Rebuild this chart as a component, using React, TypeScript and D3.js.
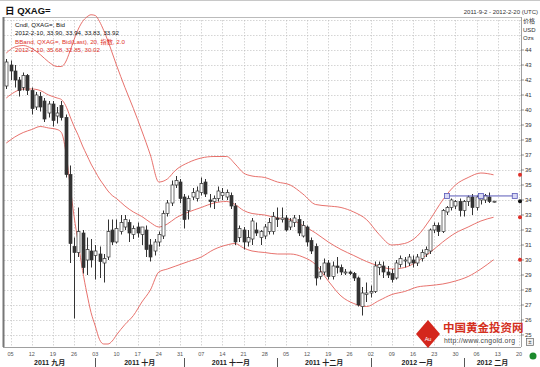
import React, { useEffect, useRef } from "react";
import * as d3 from "d3";

// Cndl, QXAG=, Bid  (daily, 2011-9-2 .. 2012-2-10)
const opens = [
  41.6, 43.0, 42.6, 42.0, 41.5, 42.3, 41.3, 40.2, 40.9, 40.6, 39.8, 40.4, 39.6, 40.3, 39.5, 35.7, 30.9, 30.5, 31.8, 30.0,
  30.6, 30.3, 30.4, 29.8, 30.2, 32.0, 31.2, 31.9, 32.2, 32.5, 31.7, 32.2, 31.7, 32.0, 31.0, 30.6, 31.2, 31.6, 33.1, 33.8,
  35.0, 35.2, 34.2, 33.3, 34.2, 34.1, 34.5, 35.2, 34.0, 33.9, 34.1, 34.3, 34.2, 34.3, 33.6, 31.5, 32.0, 31.2, 31.4, 32.0,
  31.5, 31.6, 31.9, 31.9, 32.8, 32.7, 32.8, 32.2, 32.5, 32.7, 31.6, 32.2, 31.3, 30.9, 28.9, 29.2, 29.8, 28.9, 29.6, 29.5,
  29.2, 29.2, 29.1, 28.8, 26.9, 27.7, 27.8, 27.9, 29.5, 29.6, 29.2, 29.1, 28.8, 29.7, 30.0, 29.8, 30.0, 29.8, 30.1, 30.4,
  30.6, 32.0, 32.3, 31.9, 33.2, 33.5, 33.6, 33.9, 33.3, 33.9, 34.2, 33.5, 34.0, 34.0, 34.2, 33.9,
];
const highs = [
  43.4, 43.3, 43.0, 42.2, 42.5, 42.4, 41.5, 41.2, 41.2, 40.8, 40.6, 40.6, 40.2, 40.6, 39.7, 36.3, 31.5, 33.5, 32.0, 31.5,
  31.4, 31.0, 30.9, 30.4, 32.7, 32.7, 32.7, 33.0, 33.0, 32.7, 32.3, 32.5, 32.2, 32.3, 31.4, 31.4, 31.9, 33.3, 34.0, 35.3,
  35.6, 35.4, 34.4, 34.3, 34.8, 34.9, 35.5, 35.4, 34.4, 34.3, 34.9, 34.8, 34.7, 34.5, 33.8, 32.3, 32.2, 32.0, 32.8, 32.5,
  32.0, 32.4, 32.8, 33.2, 33.5, 33.5, 33.0, 32.8, 33.0, 33.0, 32.6, 32.3, 31.5, 31.1, 29.6, 30.1, 30.0, 29.9, 30.2, 29.7,
  29.4, 29.3, 29.2, 28.9, 28.2, 28.5, 28.3, 29.9, 29.9, 29.9, 29.6, 29.4, 30.0, 30.3, 30.2, 30.4, 30.3, 30.4, 30.7, 30.9,
  32.1, 32.5, 32.5, 33.4, 33.6, 34.1, 34.0, 34.1, 34.0, 34.3, 34.4, 34.3, 34.3, 34.4, 34.5, 33.94,
];
const lows = [
  41.4, 42.0, 41.5, 40.9, 41.3, 41.0, 39.7, 40.0, 39.9, 39.2, 39.5, 38.9, 39.1, 39.3, 35.5, 29.8, 26.1, 30.2, 29.1, 29.0,
  29.5, 28.7, 28.8, 28.5, 30.0, 31.0, 31.1, 31.7, 32.0, 31.2, 31.4, 31.5, 31.0, 30.2, 29.9, 30.3, 30.9, 31.4, 32.9, 33.6,
  34.8, 33.8, 32.1, 32.7, 34.0, 33.9, 34.3, 34.2, 33.5, 33.4, 33.9, 34.0, 34.0, 33.4, 31.0, 31.2, 30.7, 30.9, 31.0, 31.6,
  31.0, 31.4, 31.7, 31.7, 32.2, 32.5, 31.9, 32.0, 32.2, 31.6, 31.5, 30.9, 30.4, 28.3, 28.7, 29.0, 28.7, 28.7, 29.1, 29.0,
  29.0, 29.0, 28.6, 26.9, 26.3, 27.2, 27.5, 27.8, 29.0, 28.8, 28.8, 28.5, 28.7, 29.5, 29.5, 29.6, 29.5, 29.6, 29.9, 30.2,
  30.4, 31.8, 31.6, 31.8, 33.0, 33.3, 33.4, 32.9, 32.9, 33.6, 33.0, 33.3, 33.7, 33.8, 33.8, 33.83,
];
const closes = [
  43.2, 42.6, 42.0, 41.3, 42.3, 41.3, 40.1, 41.0, 40.2, 39.4, 40.4, 39.3, 39.8, 39.5, 35.7, 31.1, 30.5, 31.9, 29.5, 30.7,
  30.0, 30.6, 29.9, 30.1, 31.9, 31.2, 32.1, 32.5, 32.7, 31.8, 32.1, 31.8, 32.2, 30.7, 30.2, 31.2, 31.7, 33.1, 33.8, 35.0,
  35.3, 34.1, 32.7, 34.1, 34.5, 34.6, 35.1, 34.4, 33.9, 34.1, 34.6, 34.5, 34.5, 33.6, 31.2, 32.1, 31.2, 31.5, 32.6, 31.8,
  31.9, 32.2, 32.5, 32.9, 32.7, 32.8, 32.0, 32.6, 32.8, 31.8, 32.3, 31.2, 30.6, 28.8, 29.2, 29.8, 28.9, 29.6, 29.5, 29.2,
  29.2, 29.1, 28.8, 27.0, 27.8, 27.8, 27.9, 29.6, 29.7, 29.2, 29.0, 28.7, 29.8, 30.1, 30.0, 30.2, 29.8, 30.2, 30.5, 30.7,
  32.0, 32.3, 31.9, 33.3, 33.5, 34.0, 33.9, 33.3, 33.9, 34.2, 33.5, 34.2, 34.2, 34.3, 33.9, 33.92,
];

// BBand, QXAG=, Bid(Last), 20, 指数, 2.0  (read at these trading-day indices)
const bandIdx = [
  0, 2, 4, 6, 8, 10, 12, 13, 14, 15, 16, 17, 18, 19, 20, 21, 22, 23, 24, 25, 26, 28, 30, 32, 34, 36, 38, 40, 43, 46, 49,
  52, 54, 56, 58, 61, 64, 67, 70, 73, 76, 79, 82, 85, 88, 91, 94, 97, 100, 103, 106, 109, 112, 115,
];
const bandUpper = [
  43.8, 44.2, 44.3, 44.1, 43.7, 43.2, 42.9, 42.9, 43.2, 43.9, 44.7, 45.4, 45.9, 46.2, 46.35, 46.3, 45.9, 45.3, 44.6, 43.8,
  43.0, 41.5, 40.1, 38.6, 37.0, 35.2, 35.4, 36.0, 36.5, 36.8, 36.9, 36.9, 36.4, 35.8, 35.6, 35.5, 35.2, 35.0, 34.4, 33.7,
  33.6, 33.5, 33.2, 32.7, 31.7, 31.0, 31.1, 31.6, 32.7, 34.0, 35.0, 35.5, 35.8, 35.68,
];
const bandMid = [
  40.8, 41.2, 41.4, 41.4, 41.3, 41.0, 40.8, 40.7, 40.3, 39.6, 38.9, 38.3, 37.6, 37.0, 36.4, 35.9, 35.4, 35.0, 34.6, 34.3,
  34.1, 33.6, 33.2, 32.9, 32.5, 32.2, 32.4, 32.8, 33.2, 33.5, 33.8, 33.9, 33.7, 33.3, 33.1, 33.0, 32.8, 32.7, 32.3, 31.8,
  31.2, 30.7, 30.3, 29.9, 29.6, 29.4, 29.5, 29.9, 30.5, 31.2, 31.8, 32.2, 32.6, 32.85,
];
const bandLower = [
  37.8, 38.2, 38.5, 38.7, 38.9, 38.8, 38.7, 38.5, 37.3, 35.1, 32.9, 31.1, 29.3, 27.8, 26.5, 25.6, 24.7, 24.4, 24.4, 24.6,
  25.0, 25.7, 26.3, 27.2, 28.0, 29.2, 29.4, 29.6, 29.9, 30.2, 30.7, 31.0, 31.1, 30.8, 30.6, 30.5, 30.4, 30.4, 30.2, 29.7,
  28.6, 27.6, 27.1, 26.9, 27.3, 27.7, 27.9, 28.2, 28.3, 28.4, 28.6, 28.9, 29.4, 30.02,
];

// horizontal trend line drawn by the user
const trendIdx = [104, 112, 120];
const trendValue = [34.27, 34.27, 34.27];

const priceTicks = d3.range(25, 45);
const monthNames = ["2011 九月", "2011 十月", "2011 十一月", "2011 十二月", "2012 一月", "2012 二月"];
const legendLines = [
  { text: "Cndl, QXAG=, Bid", color: "#111" },
  { text: "2012-2-10, 33.90, 33.94, 33.83, 33.92", color: "#111" },
  { text: "BBand, QXAG=, Bid(Last), 20, 指数, 2.0", color: "#e0312a" },
  { text: "2012-2-10, 35.68, 32.85, 30.02", color: "#e0312a" },
];

const FONT = "'Liberation Sans', Arial, 'Noto Sans CJK SC', sans-serif";

const App = () => {
  const ref = useRef<SVGSVGElement>(null);

  useEffect(() => {
    const svg = d3.select(ref.current);
    svg.selectAll("*").remove();

    const left = 4;
    const right = 521;
    const top = 20;
    const bottom = 347;

    // trading days Sep 2 2011 .. Feb 20 2012
    const days = d3
      .timeDay.range(new Date(2011, 8, 2), new Date(2012, 1, 21))
      .filter((d) => d.getDay() !== 0 && d.getDay() !== 6);

    const x = d3.scaleLinear().domain([0, days.length - 1]).range([6.3, 519]);
    const y = d3.scaleLinear().domain([25, 46]).range([335, 20]);

    const mondays = days.map((d, i) => ({ d, i })).filter((o) => o.d.getDay() === 1);
    const monthStarts = days
      .map((d, i) => ({ d, i }))
      .filter((o) => o.i > 0 && o.d.getMonth() !== days[o.i - 1].getMonth());

    svg.append("rect").attr("width", 540).attr("height", 367).attr("fill", "#fff");

    const defs = svg.append("defs");
    defs.append("clipPath").attr("id", "plotClip")
      .append("rect").attr("x", left).attr("y", top).attr("width", right - left).attr("height", bottom - top);
    defs.append("clipPath").attr("id", "bandClip")
      .append("rect").attr("x", left).attr("y", 12).attr("width", right - left).attr("height", bottom - 12);

    // grid
    const grid = svg.append("g").attr("stroke", "#b9b9b9").attr("stroke-width", 0.6).attr("stroke-dasharray", "1.5,1.5");
    grid.selectAll("line.h").data(d3.range(25, 47)).join("line")
      .attr("x1", left).attr("x2", right)
      .attr("y1", (v) => Math.round(y(v)) + 0.5).attr("y2", (v) => Math.round(y(v)) + 0.5);
    grid.selectAll("line.v").data(mondays).join("line")
      .attr("x1", (o) => Math.round(x(o.i)) + 0.5).attr("x2", (o) => Math.round(x(o.i)) + 0.5)
      .attr("y1", top).attr("y2", bottom);

    // frame
    svg.append("line").attr("x1", 0).attr("x2", 540).attr("y1", 0.5).attr("y2", 0.5).attr("stroke", "#c8c8c8");
    svg.append("line").attr("x1", 3).attr("x2", right).attr("y1", 17.5).attr("y2", 17.5).attr("stroke", "#aaa").attr("stroke-width", 0.8);
    svg.append("line").attr("x1", 3.5).attr("x2", 3.5).attr("y1", 17).attr("y2", bottom).attr("stroke", "#777").attr("stroke-width", 2);
    svg.append("line").attr("x1", right + 0.5).attr("x2", right + 0.5).attr("y1", 17).attr("y2", bottom).attr("stroke", "#888").attr("stroke-width", 0.8);
    svg.append("line").attr("x1", 3).attr("x2", right).attr("y1", bottom + 0.5).attr("y2", bottom + 0.5).attr("stroke", "#888").attr("stroke-width", 0.8);

    // bollinger bands
    const bandLine = d3.line<number>()
      .x((_, k) => x(bandIdx[k]))
      .y((v) => y(v))
      .curve(d3.curveMonotoneX);
    svg.append("g").attr("clip-path", "url(#bandClip)")
      .selectAll("path").data([bandUpper, bandMid, bandLower]).join("path")
      .attr("d", (s) => bandLine(s))
      .attr("fill", "none").attr("stroke", "#e4625c").attr("stroke-width", 0.9);

    // candles
    const candles = opens.map((o, i) => ({ i, o, h: highs[i], l: lows[i], c: closes[i] }));
    const cg = svg.append("g").attr("clip-path", "url(#plotClip)");
    cg.selectAll("line").data(candles).join("line")
      .attr("x1", (d) => Math.round(x(d.i)) + 0.5).attr("x2", (d) => Math.round(x(d.i)) + 0.5)
      .attr("y1", (d) => y(d.h)).attr("y2", (d) => y(d.l))
      .attr("stroke", "#333").attr("stroke-width", 1);
    cg.selectAll("rect").data(candles).join("rect")
      .attr("x", (d) => Math.round(x(d.i)) - 1)
      .attr("width", 3)
      .attr("y", (d) => y(Math.max(d.o, d.c)))
      .attr("height", (d) => Math.max(1, Math.abs(y(d.o) - y(d.c))))
      .attr("fill", (d) => (d.c >= d.o ? "#fff" : "#333"))
      .attr("stroke", "#333").attr("stroke-width", 0.7);

    // trend line
    const tl = svg.append("g");
    tl.append("path")
      .attr("d", d3.line<number>().x((i) => x(i)).y((_, k) => y(trendValue[k]))(trendIdx))
      .attr("stroke", "#5a5ab8").attr("stroke-width", 1).attr("fill", "none");
    tl.selectAll("rect").data(trendIdx).join("rect")
      .attr("x", (i) => x(i) - 2.5).attr("y", (_, k) => y(trendValue[k]) - 2.5)
      .attr("width", 5).attr("height", 5)
      .attr("fill", "#d8d8f4").attr("stroke", "#5a5ab8").attr("stroke-width", 0.8);

    // right axis
    const ax = svg.append("g").attr("font-family", FONT).attr("font-size", 6).attr("fill", "#333");
    ax.selectAll("line").data(priceTicks).join("line")
      .attr("x1", right).attr("x2", right + 3)
      .attr("y1", (v) => y(v)).attr("y2", (v) => y(v))
      .attr("stroke", "#666").attr("stroke-width", 0.7);
    ax.selectAll("text").data(priceTicks).join("text")
      .attr("x", right + 4).attr("y", (v) => y(v) + 2.2)
      .text((v) => v);
    ["价格", "USD", "Ozs"].forEach((t, k) => {
      svg.append("text").attr("x", right + 2).attr("y", 23 + k * 8.5)
        .attr("font-family", FONT).attr("font-size", 6).attr("fill", "#333").text(t);
    });

    // last value markers on the axis
    const marks = [
      { v: bandUpper[bandUpper.length - 1], c: "#e0312a" },
      { v: closes[closes.length - 1], c: "#111" },
      { v: bandMid[bandMid.length - 1], c: "#e0312a" },
      { v: bandLower[bandLower.length - 1], c: "#e0312a" },
    ];
    svg.selectAll("circle.mk").data(marks).join("circle")
      .attr("cx", right - 1).attr("cy", (m) => y(m.v)).attr("r", 2)
      .attr("fill", (m) => m.c);

    // bottom axis: dates
    const fmt = d3.timeFormat("%d");
    svg.append("g").attr("font-family", FONT).attr("font-size", 5.5).attr("fill", "#555").attr("text-anchor", "middle")
      .selectAll("text").data(mondays).join("text")
      .attr("x", (o) => x(o.i)).attr("y", 356)
      .text((o) => fmt(o.d));
    svg.append("g").attr("stroke", "#444").attr("stroke-width", 0.9)
      .selectAll("line").data(monthStarts).join("line")
      .attr("x1", (o) => Math.round(x(o.i)) + 0.5).attr("x2", (o) => Math.round(x(o.i)) + 0.5)
      .attr("y1", 358).attr("y2", 367);
    const bounds = [left, ...monthStarts.map((o) => x(o.i)), right];
    svg.append("g").attr("font-family", FONT).attr("font-size", 7).attr("font-weight", "bold").attr("fill", "#222")
      .attr("text-anchor", "middle")
      .selectAll("text").data(monthNames).join("text")
      .attr("x", (_, k) => (bounds[k] + bounds[k + 1]) / 2).attr("y", 365)
      .text((t) => t);

    // header
    svg.append("text").attr("x", 5).attr("y", 13.5)
      .attr("font-family", FONT).attr("font-size", 9.5).attr("font-weight", "bold").attr("fill", "#111")
      .text("日 QXAG=");
    svg.append("text").attr("x", 538).attr("y", 14).attr("text-anchor", "end")
      .attr("font-family", FONT).attr("font-size", 6).attr("fill", "#333")
      .text("2011-9-2 - 2012-2-20 (UTC)");

    // legend
    svg.append("g").attr("font-family", FONT).attr("font-size", 6.2)
      .selectAll("text").data(legendLines).join("text")
      .attr("x", 15).attr("y", (_, k) => 27 + k * 8.3)
      .attr("fill", (l) => l.color)
      .text((l) => l.text);

    // watermark
    const wm = svg.append("g");
    wm.append("polygon").attr("points", "428,320 440,334 428,348 416,334").attr("fill", "#d4261c");
    wm.append("text").attr("x", 428).attr("y", 341).attr("text-anchor", "middle")
      .attr("font-family", FONT).attr("font-size", 5.5).attr("fill", "#fff").text("Au");
    wm.append("text").attr("x", 443).attr("y", 332)
      .attr("font-family", "'Noto Sans CJK SC', sans-serif").attr("font-size", 11.5).attr("font-weight", "bold")
      .attr("fill", "#d4301e").text("中国黄金投资网");
    wm.append("text").attr("x", 444).attr("y", 343)
      .attr("font-family", FONT).attr("font-size", 6.8).attr("fill", "#444").attr("letter-spacing", 0.3)
      .text("http://www.cngold.org");

    // small widgets
    svg.append("rect").attr("x", 526.5).attr("y", 338.5).attr("width", 7).attr("height", 7)
      .attr("fill", "#f0f0f0").attr("stroke", "#666").attr("stroke-width", 0.7);
    svg.append("text").attr("x", 530).attr("y", 344.3).attr("text-anchor", "middle")
      .attr("font-family", FONT).attr("font-size", 6).attr("fill", "#444").text("±");
    svg.append("circle").attr("cx", 533).attr("cy", 356).attr("r", 3.5).attr("fill", "#1c8a2c");
  }, []);

  return (
    <svg
      ref={ref}
      width={540}
      height={367}
      style={{ position: "absolute", left: 0, top: 0, display: "block" }}
    />
  );
};

export default App;
